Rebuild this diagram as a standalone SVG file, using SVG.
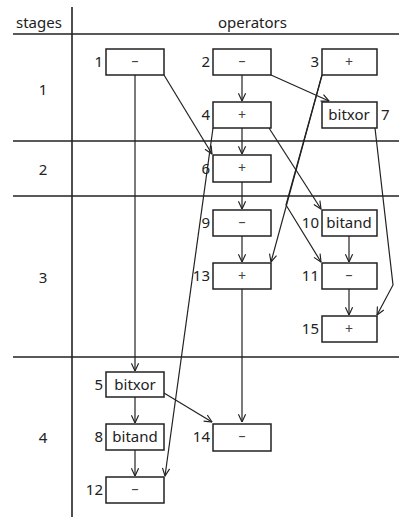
<svg xmlns="http://www.w3.org/2000/svg" width="399" height="517" viewBox="0 0 399 517">
<defs>
<marker id="ah" viewBox="0 0 10 10" refX="9.5" refY="5" markerWidth="9" markerHeight="9" markerUnits="userSpaceOnUse" orient="auto">
<path d="M1,1 L9.5,5 L1,9" fill="none" stroke="#222" stroke-width="1.3"/>
</marker>
<style>
text{font-family:"Noto Sans","Open Sans","DejaVu Sans",sans-serif;font-size:15px;fill:#222}
.grid{stroke:#222;stroke-width:1.6;fill:none}
.box rect{fill:#fff;stroke:#222;stroke-width:1.5}
.op{text-anchor:middle;fill:#444;font-size:14px}
.w{fill:#222;font-size:15px}
.num{text-anchor:end}
.con path{fill:none;stroke:#222;stroke-width:1.2;marker-end:url(#ah)}
</style>
</defs>
<rect width="399" height="517" fill="#fff"/>
<g id="grid" class="grid">
<line x1="72" y1="7" x2="72" y2="517"/>
<line x1="13" y1="34" x2="399" y2="34"/>
<line x1="13" y1="141" x2="399" y2="141"/>
<line x1="13" y1="196" x2="399" y2="196"/>
<line x1="13" y1="357" x2="399" y2="357"/>
</g>
<g id="headers">
<text x="16" y="28">stages</text>
<text x="218" y="28">operators</text>
<text x="43" y="95" text-anchor="middle">1</text>
<text x="43" y="175" text-anchor="middle">2</text>
<text x="43" y="283" text-anchor="middle">3</text>
<text x="43" y="443" text-anchor="middle">4</text>
</g>
<g id="connectors" class="con">
<path d="M135,75 L135,371"/>
<path d="M164,75 L212,154"/>
<path d="M242,75 L242,101"/>
<path d="M271,75 L329,101"/>
<path d="M242,128 L242,154"/>
<path d="M213,128 L165,476"/>
<path d="M269,128 L321,209"/>
<path d="M322,75 L271,262"/>
<path d="M322,75 L286,205 L321,262"/>
<path d="M375,128 L393,285 L377,315"/>
<path d="M242,182 L242,209"/>
<path d="M242,236 L242,262"/>
<path d="M349,236 L349,262"/>
<path d="M349,289 L349,315"/>
<path d="M242,289 L242,422"/>
<path d="M135,397 L135,423"/>
<path d="M164,393 L212,422"/>
<path d="M135,450 L135,476"/>
</g>
<g id="n1" class="box"><rect x="106" y="49" width="58" height="26"/><text class="op" x="135" y="66">–</text><text class="num" x="103" y="67">1</text></g>
<g id="n2" class="box"><rect x="213" y="49" width="58" height="26"/><text class="op" x="242" y="66">–</text><text class="num" x="210" y="67">2</text></g>
<g id="n3" class="box"><rect x="322" y="49" width="55" height="26"/><text class="op" x="349" y="67">+</text><text class="num" x="319" y="67">3</text></g>
<g id="n4" class="box"><rect x="213" y="102" width="58" height="26"/><text class="op" x="242" y="120">+</text><text class="num" x="210" y="120">4</text></g>
<g id="n7" class="box"><rect x="322" y="102" width="55" height="26"/><text class="op w" x="349" y="120">bitxor</text><text x="381" y="120">7</text></g>
<g id="n6" class="box"><rect x="213" y="155" width="58" height="27"/><text class="op" x="242" y="173">+</text><text class="num" x="210" y="174">6</text></g>
<g id="n9" class="box"><rect x="213" y="210" width="58" height="26"/><text class="op" x="242" y="227">–</text><text class="num" x="210" y="228">9</text></g>
<g id="n10" class="box"><rect x="322" y="210" width="55" height="26"/><text class="op w" x="349" y="228">bitand</text><text class="num" x="319" y="228">10</text></g>
<g id="n13" class="box"><rect x="213" y="263" width="58" height="26"/><text class="op" x="242" y="281">+</text><text class="num" x="210" y="281">13</text></g>
<g id="n11" class="box"><rect x="322" y="263" width="55" height="26"/><text class="op" x="349" y="280">–</text><text class="num" x="319" y="281">11</text></g>
<g id="n15" class="box"><rect x="322" y="316" width="55" height="26"/><text class="op" x="349" y="334">+</text><text class="num" x="319" y="334">15</text></g>
<g id="n5" class="box"><rect x="106" y="372" width="58" height="25"/><text class="op w" x="135" y="390">bitxor</text><text class="num" x="103" y="390">5</text></g>
<g id="n8" class="box"><rect x="106" y="424" width="58" height="26"/><text class="op w" x="135" y="442">bitand</text><text class="num" x="103" y="442">8</text></g>
<g id="n12" class="box"><rect x="106" y="477" width="58" height="26"/><text class="op" x="135" y="494">–</text><text class="num" x="103" y="495">12</text></g>
<g id="n14" class="box"><rect x="213" y="424" width="58" height="27"/><text class="op" x="242" y="441">–</text><text class="num" x="210" y="442">14</text></g>
</svg>
